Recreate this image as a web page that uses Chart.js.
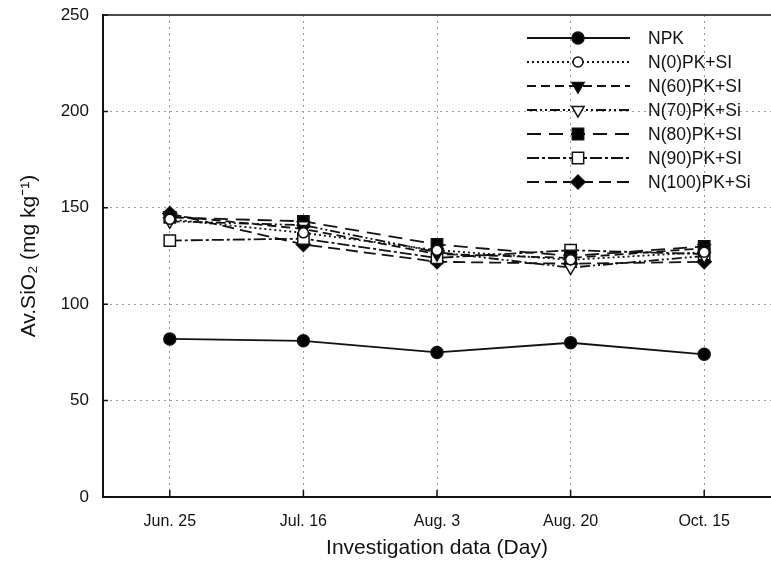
<!DOCTYPE html>
<html><head><meta charset="utf-8">
<script src="https://cdn.jsdelivr.net/npm/chart.js@4.4.1/dist/chart.umd.min.js"></script>
<style>html,body{margin:0;padding:0;background:#fff}#wrap{width:771px;height:564px;position:relative}</style>
</head><body><div id="wrap"><canvas id="c"></canvas></div>
<script>
const categories = ['Jun. 25', 'Jul. 16', 'Aug. 3', 'Aug. 20', 'Oct. 15'];
const seriesNames = ['NPK', 'N(0)PK+SI', 'N(60)PK+SI', 'N(70)PK+Si', 'N(80)PK+SI', 'N(90)PK+SI', 'N(100)PK+Si'];
const npk     = [82, 81, 75, 80, 74];
const n0      = [144, 137, 128, 123, 127];
const n60     = [146, 139, 126, 124, 129];
const n70     = [143, 141, 127, 119, 125];
const n80     = [145, 143, 131, 125, 130];
const n90     = [133, 134, 124, 128, 126];
const n100    = [147, 131, 122, 121, 122];
const yTicks  = [0, 50, 100, 150, 200, 250];
const yTitle  = 'Av.SiO\u2082 (mg kg\u207B\u00B9)';
const xTitle  = 'Investigation data (Day)';

const FONT = '"Liberation Sans", Arial, Helvetica, sans-serif';
const seriesValues = [npk, n0, n60, n70, n80, n90, n100];
const styles = [
  {dash: [], ps: 'circle', fill: '#000', r: 6, rot: 0},
  {dash: [2, 3], ps: 'circle', fill: '#fff', r: 5, rot: 0},
  {dash: [9, 5], ps: 'triangle', fill: '#000', r: 7, rot: 180},
  {dash: [10, 3, 2, 3, 2, 3], ps: 'triangle', fill: '#fff', r: 7, rot: 180},
  {dash: [14, 8], ps: 'rect', fill: '#000', r: 8, rot: 0},
  {dash: [12, 3, 3, 3], ps: 'rect', fill: '#fff', r: 8, rot: 0},
  {dash: [12, 6], ps: 'rectRot', fill: '#000', r: 7, rot: 0}
];

const datasets = seriesNames.map((name, i) => ({
  label: name,
  data: seriesValues[i],
  borderColor: '#111',
  borderWidth: 1.8,
  borderDash: styles[i].dash,
  pointStyle: styles[i].ps,
  pointRotation: styles[i].rot,
  pointRadius: styles[i].r,
  pointBackgroundColor: styles[i].fill,
  pointBorderColor: '#111',
  pointBorderWidth: 1.5,
  tension: 0,
  fill: false
}));

const framePlugin = {
  id: 'frame',
  afterDatasetsDraw(chart) {
    const {ctx, chartArea: a, scales: {x, y}} = chart;
    ctx.save();
    ctx.strokeStyle = '#111';
    ctx.lineWidth = 1.5;
    ctx.beginPath();
    ctx.moveTo(a.left, a.top); ctx.lineTo(a.right, a.top);
    ctx.stroke();
    ctx.beginPath();
    yTicks.forEach(v => { const py = y.getPixelForValue(v); ctx.moveTo(a.left, py); ctx.lineTo(a.left + 5, py); });
    categories.forEach((c, i) => { const px = x.getPixelForValue(i); ctx.moveTo(px, a.bottom); ctx.lineTo(px, a.bottom - 7); });
    ctx.stroke();
    // legend
    const lx0 = 527, lx1 = 630, mx = 578, tx = 648;
    let ly = 38;
    ctx.font = '17.5px ' + FONT;
    ctx.textBaseline = 'middle';
    ctx.textAlign = 'left';
    chart.data.datasets.forEach((ds) => {
      ctx.save();
      ctx.strokeStyle = '#111';
      ctx.lineWidth = 1.8;
      ctx.setLineDash(ds.borderDash);
      ctx.beginPath(); ctx.moveTo(lx0, ly); ctx.lineTo(lx1, ly); ctx.stroke();
      ctx.restore();
      ctx.save();
      ctx.fillStyle = ds.pointBackgroundColor;
      ctx.strokeStyle = '#111';
      ctx.lineWidth = 1.5;
      Chart.helpers.drawPoint(ctx, {pointStyle: ds.pointStyle, rotation: ds.pointRotation, radius: ds.pointRadius, borderWidth: 1.5}, mx, ly);
      ctx.restore();
      ctx.fillStyle = '#111';
      ctx.fillText(ds.label, tx, ly + 1);
      ly += 24;
    });
    ctx.restore();
  }
};

new Chart(document.getElementById('c'), {
  type: 'line',
  data: {labels: categories, datasets},
  options: {
    responsive: true,
    maintainAspectRatio: false,
    animation: false,
    layout: {autoPadding: false, padding: {top: 15, right: 0, left: 0, bottom: 0}},
    plugins: {legend: {display: false}, tooltip: {enabled: false}},
    scales: {
      x: {
        type: 'category',
        offset: true,
        grid: {
          display: true,
          drawTicks: false,
          offset: false,
          color: '#9a9a9a',
          lineWidth: 1
        },
        border: {display: true, color: '#111', width: 2, dash: [2, 4]},
        ticks: {font: {family: FONT, size: 16}, color: '#111', padding: 15, maxRotation: 0},
        title: {display: true, text: xTitle, font: {family: FONT, size: 21}, color: '#111', padding: {top: 0, bottom: 3}},
        afterFit(s) { s.height = 67; s.paddingLeft = 0; s.paddingRight = 0; }
      },
      y: {
        min: 0, max: 250,
        afterBuildTicks(s) { s.ticks = yTicks.map(v => ({value: v})); },
        grid: {
          drawTicks: false,
          color: (c) => (c.tick && (c.tick.value === 0 || c.tick.value === 250)) ? 'rgba(0,0,0,0)' : '#9a9a9a',
          lineWidth: 1
        },
        border: {display: true, color: '#111', width: 2, dash: [2, 4]},
        ticks: {font: {family: FONT, size: 17}, color: '#111', padding: 14},
        title: {display: true, text: yTitle, font: {family: FONT, size: 21}, color: '#111', padding: {top: 17, bottom: 0}},
        afterFit(s) { s.width = 103; s.paddingTop = 0; s.paddingBottom = 0; }
      }
    }
  },
  plugins: [framePlugin]
});
</script>
</body></html>
